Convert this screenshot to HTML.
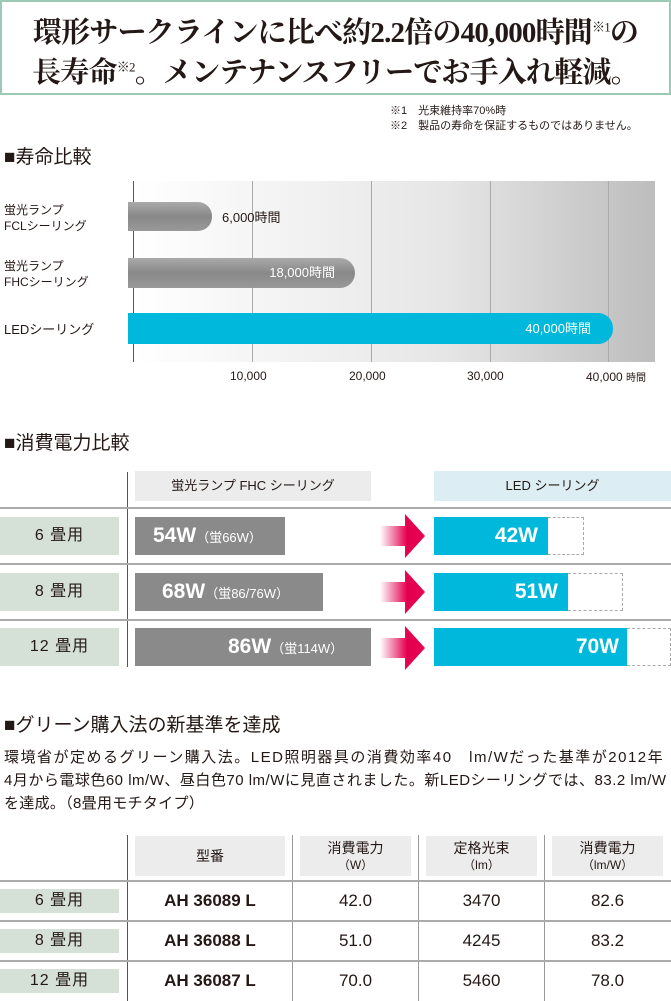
<!DOCTYPE html>
<html><head><meta charset="utf-8"><style>
*{margin:0;padding:0;box-sizing:border-box}
body{width:671px;height:1001px;background:#fff;position:relative;overflow:hidden;font-family:"Liberation Sans","Noto Sans CJK JP",sans-serif;color:#231815}
.a{position:absolute;white-space:nowrap}
.t{font-family:"Liberation Serif","Noto Serif CJK SC",serif;font-weight:bold;font-size:29px;left:0;width:671px;text-align:center;letter-spacing:-0.8px}
.h{font-size:19px;left:4px}
.lbl{background:#d5e0d6;font-size:16px;text-align:center;letter-spacing:1px}
.gb{background:#8a8a8a;color:#fff;font-weight:bold;font-size:21px;padding-left:18px;line-height:38px}
.gb small{font-size:13px;font-weight:normal}
.cb{background:#00b8dc;color:#fff;font-weight:bold;font-size:21px;text-align:right;padding-right:10px;line-height:38px}
.dash{border:1px dashed #aaa;border-left:none}
.hl{height:2px;background:#aaa;left:0;width:671px}
.vl{width:1px;background:#555}
.th{background:#ececec;font-size:14px;text-align:center;line-height:16px}
.td{font-size:17px;text-align:center}
.p{left:4px;font-size:15px;font-family:"Liberation Sans","Noto Sans CJK JP",sans-serif}
</style></head><body>
<div class="a" style="left:0;top:0;width:671px;height:95px;border:2px solid #9ccab6"></div>
<div class="a t" style="top:10px">環形サークラインに比べ約2.2倍の40,000時間<sup style="font-size:13px;font-weight:normal">※1</sup>の</div>
<div class="a t" style="top:50px">長寿命<sup style="font-size:13px;font-weight:normal">※2</sup>。メンテナンスフリーでお手入れ軽減。</div>
<div class="a" style="left:390px;top:104px;font-size:11px;line-height:15px">※1　光束維持率70%時<br>※2　製品の寿命を保証するものではありません。</div>
<div class="a h" style="top:142px">■寿命比較</div>
<div class="a" style="left:133px;top:181px;width:522px;height:181px;background:linear-gradient(90deg,#fff,#e6e6e6 60%,#bdbdbd)"></div>
<div class="a vl" style="left:133px;top:181px;height:181px"></div>
<div class="a" style="left:252px;top:181px;width:1px;height:181px;background:#aaa"></div>
<div class="a" style="left:371px;top:181px;width:1px;height:181px;background:#aaa"></div>
<div class="a" style="left:490px;top:181px;width:1px;height:181px;background:#aaa"></div>
<div class="a" style="left:608px;top:181px;width:1px;height:181px;background:#aaa"></div>
<div class="a" style="left:4px;top:202px;font-size:12px;line-height:16px">蛍光ランプ<br>FCLシーリング</div>
<div class="a" style="left:4px;top:258px;font-size:12px;line-height:16px">蛍光ランプ<br>FHCシーリング</div>
<div class="a" style="left:4px;top:319px;font-size:13px">LEDシーリング</div>
<div class="a" style="left:128px;top:202px;width:84px;height:29px;background:linear-gradient(#aaa,#888 50%,#999);border-radius:0 14px 14px 0"></div>
<div class="a" style="left:222px;top:207px;font-size:13px">6,000時間</div>
<div class="a" style="left:128px;top:258px;width:227px;height:30px;background:linear-gradient(#aaa,#888 50%,#999);border-radius:0 15px 15px 0;color:#fff;font-size:13px;text-align:right;padding-right:20px;line-height:30px">18,000時間</div>
<div class="a" style="left:128px;top:313px;width:485px;height:31px;background:#00b8dc;border-radius:0 15px 15px 0;color:#fff;font-size:13px;text-align:right;padding-right:22px;line-height:31px">40,000時間</div>
<div class="a" style="left:230px;top:369px;font-size:12px">10,000</div>
<div class="a" style="left:349px;top:369px;font-size:12px">20,000</div>
<div class="a" style="left:467px;top:369px;font-size:12px">30,000</div>
<div class="a" style="left:586px;top:369px;font-size:12px">40,000 <span style="font-size:10px">時間</span></div>

<div class="a h" style="top:428px">■消費電力比較</div>
<div class="a vl" style="left:127px;top:472px;height:195px"></div>
<div class="a th" style="left:135px;top:471px;width:236px;height:30px;line-height:30px;font-size:13px">蛍光ランプ FHC シーリング</div>
<div class="a th" style="left:434px;top:471px;width:237px;height:30px;line-height:30px;background:#dcedf3;font-size:13px">LED シーリング</div>
<div class="a hl" style="top:507px"></div>
<div class="a hl" style="top:563px"></div>
<div class="a hl" style="top:619px"></div>
<div class="a lbl" style="left:0;top:517px;width:119px;height:38px;line-height:38px">6 畳用</div>
<div class="a lbl" style="left:0;top:573px;width:119px;height:38px;line-height:38px">8 畳用</div>
<div class="a lbl" style="left:0;top:628px;width:119px;height:38px;line-height:38px">12 畳用</div>
<div class="a gb" style="left:135px;top:517px;width:150px;height:38px">54W<small>（蛍66W）</small></div>
<div class="a gb" style="left:135px;top:573px;width:188px;height:38px;padding-left:27px">68W<small>（蛍86/76W）</small></div>
<div class="a gb" style="left:135px;top:628px;width:236px;height:38px;padding-left:93px">86W<small>（蛍114W）</small></div>
<svg class="a" style="left:380px;top:514px" width="50" height="160">
<defs><linearGradient id="g" x1="0" x2="1"><stop offset="0" stop-color="#e4004f" stop-opacity="0"/><stop offset="0.6" stop-color="#e4004f"/></linearGradient></defs>
<g fill="url(#g)"><path d="M0 12h25v-12l20 22l-20 22v-12h-25z"/><path d="M0 68h25v-12l20 22l-20 22v-12h-25z"/><path d="M0 124h25v-12l20 22l-20 22v-12h-25z"/></g></svg>
<div class="a dash" style="left:548px;top:517px;width:36px;height:38px"></div>
<div class="a dash" style="left:568px;top:573px;width:55px;height:38px"></div>
<div class="a dash" style="left:627px;top:628px;width:44px;height:38px"></div>
<div class="a cb" style="left:434px;top:517px;width:114px;height:38px">42W</div>
<div class="a cb" style="left:434px;top:573px;width:134px;height:38px">51W</div>
<div class="a cb" style="left:434px;top:628px;width:193px;height:38px;padding-right:8px">70W</div>

<div class="a h" style="top:710px">■グリーン購入法の新基準を達成</div>
<div class="a p" style="top:746px;letter-spacing:1.5px">環境省が定めるグリーン購入法。LED照明器具の消費効率40　lm/Wだった基準が2012年</div>
<div class="a p" style="top:769px;letter-spacing:0.5px">4月から電球色60 lm/W、昼白色70 lm/Wに見直されました。新LEDシーリングでは、83.2 lm/W</div>
<div class="a p" style="top:792px;letter-spacing:0.3px">を達成。（8畳用モチタイプ）</div>
<div class="a vl" style="left:127px;top:835px;height:166px"></div>
<div class="a" style="left:292px;top:835px;width:1px;height:166px;background:#999"></div>
<div class="a" style="left:418px;top:835px;width:1px;height:166px;background:#999"></div>
<div class="a" style="left:544px;top:835px;width:1px;height:166px;background:#999"></div>
<div class="a th" style="left:135px;top:836px;width:150px;height:40px;line-height:40px">型番</div>
<div class="a th" style="left:300px;top:836px;width:111px;height:40px;padding-top:4px">消費電力<br><span style="font-size:12px">（W）</span></div>
<div class="a th" style="left:426px;top:836px;width:111px;height:40px;padding-top:4px">定格光束<br><span style="font-size:12px">（lm）</span></div>
<div class="a th" style="left:552px;top:836px;width:111px;height:40px;padding-top:4px">消費電力<br><span style="font-size:12px">（lm/W）</span></div>
<div class="a hl" style="top:880px"></div>
<div class="a hl" style="top:920px"></div>
<div class="a hl" style="top:960px"></div>
<div class="a lbl" style="left:0;top:889px;width:119px;height:24px;line-height:24px">6 畳用</div>
<div class="a lbl" style="left:0;top:929px;width:119px;height:24px;line-height:24px">8 畳用</div>
<div class="a lbl" style="left:0;top:969px;width:119px;height:24px;line-height:24px">12 畳用</div>
<div class="a td" style="left:135px;top:891px;width:150px;font-weight:bold">AH 36089 L</div>
<div class="a td" style="left:135px;top:931px;width:150px;font-weight:bold">AH 36088 L</div>
<div class="a td" style="left:135px;top:971px;width:150px;font-weight:bold">AH 36087 L</div>
<div class="a td" style="left:300px;top:891px;width:111px">42.0</div>
<div class="a td" style="left:300px;top:931px;width:111px">51.0</div>
<div class="a td" style="left:300px;top:971px;width:111px">70.0</div>
<div class="a td" style="left:426px;top:891px;width:111px">3470</div>
<div class="a td" style="left:426px;top:931px;width:111px">4245</div>
<div class="a td" style="left:426px;top:971px;width:111px">5460</div>
<div class="a td" style="left:552px;top:891px;width:111px">82.6</div>
<div class="a td" style="left:552px;top:931px;width:111px">83.2</div>
<div class="a td" style="left:552px;top:971px;width:111px">78.0</div>
</body></html>
